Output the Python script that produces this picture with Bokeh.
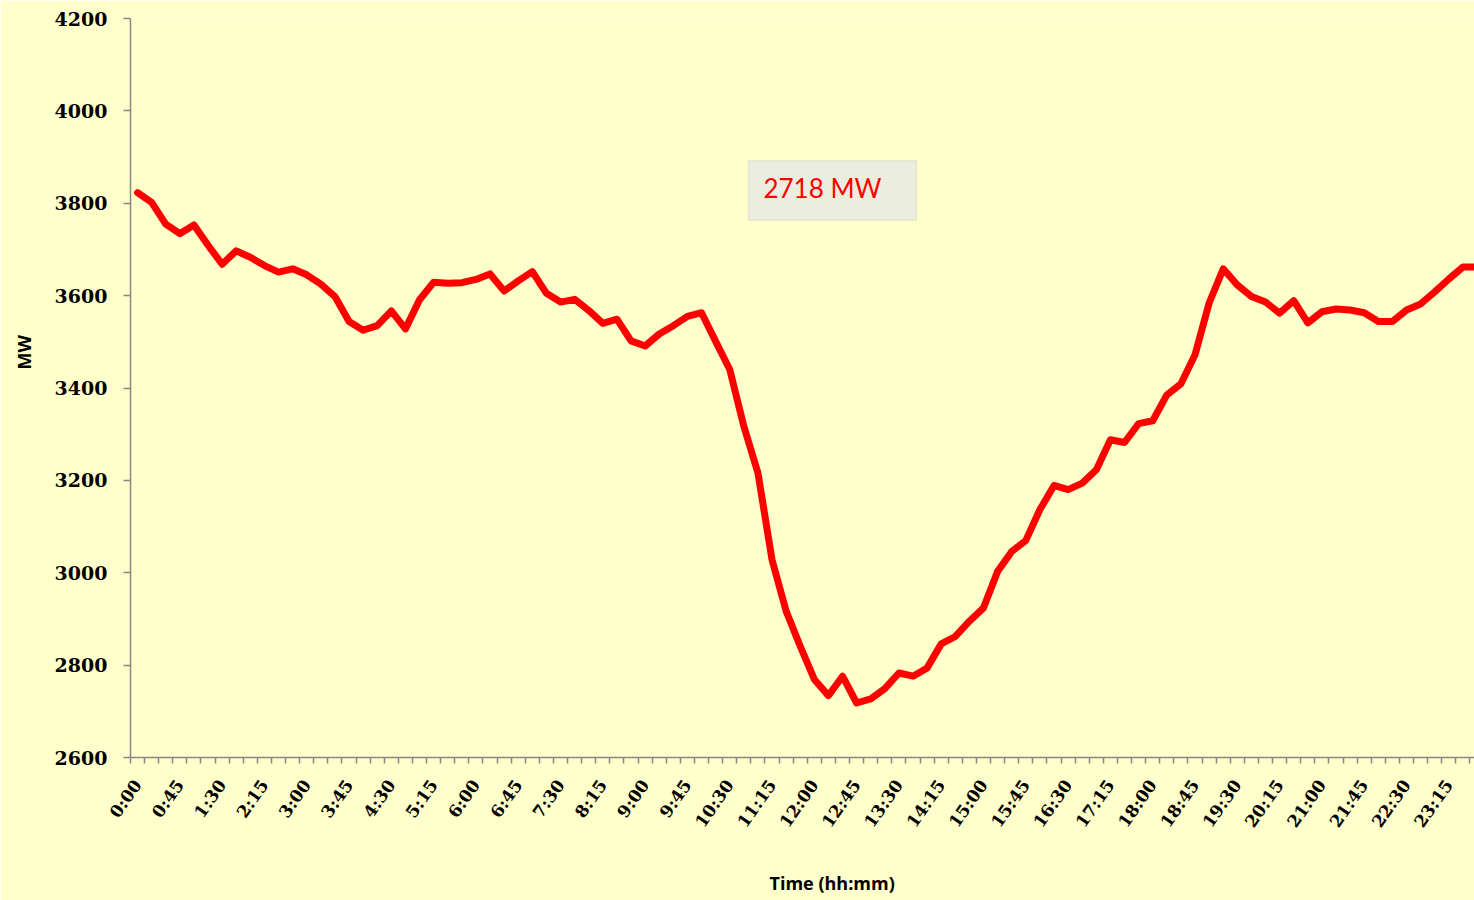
from bokeh.plotting import figure
from bokeh.models import Range1d, FixedTicker, Label, BoxAnnotation, Title
from bokeh.embed import file_html
from bokeh.resources import INLINE

# ---- data -------------------------------------------------------------
times = [f"{h}:{m:02d}" for h in range(24) for m in (0, 15, 30, 45)]

load_mw = [
    3823, 3802, 3755, 3734, 3753, 3709, 3668, 3697, 3683, 3665, 3651, 3658,
    3645, 3625, 3598, 3544, 3525, 3535, 3567, 3528, 3591, 3629, 3627, 3628,
    3635, 3647, 3610, 3632, 3652, 3605, 3586, 3592, 3568, 3540, 3549, 3502,
    3491, 3517, 3535, 3555, 3563, 3501, 3440, 3317, 3216, 3028, 2917, 2841,
    2769, 2734, 2776, 2718, 2727, 2749, 2783, 2776, 2794, 2846, 2862, 2895,
    2924, 3003, 3046, 3070, 3137, 3189, 3180, 3194, 3223, 3288, 3282, 3323,
    3329, 3385, 3409, 3472, 3584, 3658, 3623, 3598, 3586, 3562, 3589, 3541,
    3565, 3571, 3569, 3563, 3544, 3544, 3569, 3582, 3608, 3636, 3662, 3662,
]

y_ticks = [2600, 2800, 3000, 3200, 3400, 3600, 3800, 4000, 4200]
label_step = 3
annotation_text = "2718 MW"
x_title = "Time (hh:mm)"
y_title = "MW"

# ---- style ------------------------------------------------------------
BG = "#FFFFCC"
AXIS_GRAY = "#878787"
SERIF = "DejaVu Serif"
SANS = "Open Sans"

x = list(range(len(times)))

p = figure(
    width=1474, height=900,
    output_backend="svg", toolbar_location=None,
    x_range=Range1d(-0.5, 94.82), y_range=Range1d(2600, 4200),
    min_border_left=130, min_border_top=18, min_border_right=0,
    min_border_bottom=142,
)
p.background_fill_color = BG
p.border_fill_color = BG
p.outline_line_color = None
p.xgrid.visible = False
p.ygrid.visible = False

p.line(x, load_mw, line_color="#FF0000", line_width=7,
       line_join="round", line_cap="round")

# x axis
xa = p.xaxis[0]
xa.ticker = FixedTicker(ticks=x[::label_step],
                        minor_ticks=[i - 0.5 for i in range(len(times) + 1)])
xa.major_label_overrides = {i: times[i] for i in x[::label_step]}
xa.major_label_orientation = 0.96
xa.major_label_text_font = SERIF
xa.major_label_text_font_style = "bold"
xa.major_label_text_font_size = "17px"
xa.major_label_text_color = "black"
xa.major_label_standoff = 18
xa.major_tick_out = 0
xa.major_tick_in = 0
xa.minor_tick_out = 6
xa.minor_tick_in = 0
xa.minor_tick_line_color = AXIS_GRAY
xa.minor_tick_line_width = 1.5
xa.axis_line_color = AXIS_GRAY
xa.axis_line_width = 1.5

# y axis
ya = p.yaxis[0]
ya.ticker = FixedTicker(ticks=y_ticks)
ya.major_label_text_font = SERIF
ya.major_label_text_font_style = "bold"
ya.major_label_text_font_size = "19px"
ya.major_label_text_color = "black"
ya.major_label_standoff = 16
ya.major_tick_out = 7
ya.major_tick_in = 0
ya.major_tick_line_color = AXIS_GRAY
ya.major_tick_line_width = 1.5
ya.minor_tick_line_color = None
ya.axis_line_color = AXIS_GRAY
ya.axis_line_width = 1.5

# axis titles (positioned as in the original chart)
p.add_layout(Title(text=x_title, align="left", offset=639, standoff=11,
                   vertical_align="bottom",
                   padding=dict(top=24, bottom=0, left=0, right=0),
                   text_font=SANS, text_font_style="bold",
                   text_font_size="18px", text_color="black"), "below")
p.add_layout(Title(text=y_title, align="left", offset=388, standoff=16,
                   padding=dict(top=0, bottom=8, left=0, right=0),
                   text_font=SANS, text_font_style="bold",
                   text_font_size="18px", text_color="black"), "left")

# annotation box
p.add_layout(BoxAnnotation(left=43.33, right=55.24, bottom=3764, top=3892,
                           fill_color="#EBEEDF", fill_alpha=1.0,
                           line_color="#BFBFBF", line_width=1.5))
p.add_layout(Label(x=44.39, y=3832, text=annotation_text,
                   text_align="left", text_baseline="alphabetic",
                   text_font="Lato", text_font_size="26px",
                   text_color="#FF0000"))

open("out.html", "w").write(file_html(p, INLINE))
